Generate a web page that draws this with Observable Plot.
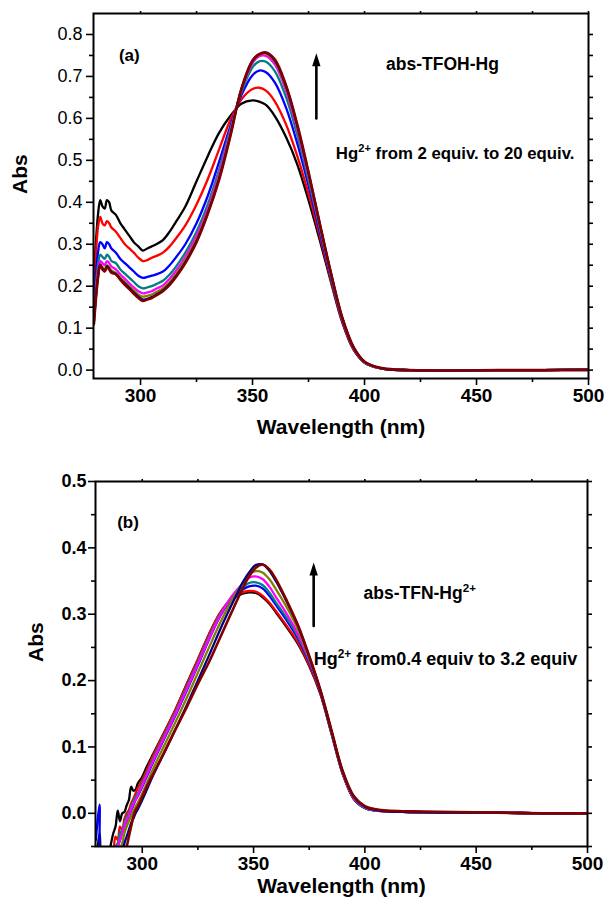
<!DOCTYPE html>
<html>
<head>
<meta charset="utf-8">
<script src="https://cdn.jsdelivr.net/npm/d3@7"></script>
<script src="https://cdn.jsdelivr.net/npm/@observablehq/plot@0.6"></script>
<style>
html, body { margin: 0; padding: 0; background: #fff; }
#chart svg { display: block; }
</style>
</head>
<body>
<div id="chart"></div>
<script>
// ---------- data ----------
const SERIES_COLORS = ["#000000", "#ff0000", "#0000ff", "#008080", "#ff00ff", "#808000", "#000080", "#800000"];

// panel (a) abs-TFOH-Hg
const WAVE_A = [279.2, 281, 282, 283, 284, 285, 286, 287, 289, 291, 293, 295, 297, 299, 301, 303, 305, 307, 310, 313, 316, 320, 325, 330, 335, 340, 345, 350, 353, 356, 360, 365, 370, 375, 380, 385, 390, 395, 400, 405, 410, 420, 440, 460, 480, 500];
const A_BLACK   = [0.22, 0.37, 0.405, 0.39, 0.385, 0.405, 0.40, 0.38, 0.37, 0.35, 0.335, 0.32, 0.305, 0.295, 0.285, 0.29, 0.295, 0.30, 0.31, 0.33, 0.355, 0.39, 0.45, 0.51, 0.565, 0.605, 0.635, 0.643, 0.64, 0.632, 0.605, 0.555, 0.49, 0.405, 0.31, 0.21, 0.115, 0.05, 0.018, 0.007, 0.002, 0.0, -0.001, 0.0, 0.0, 0.001];
const A_RED     = [0.17, 0.34, 0.365, 0.35, 0.345, 0.355, 0.35, 0.34, 0.33, 0.315, 0.30, 0.29, 0.28, 0.268, 0.26, 0.262, 0.268, 0.272, 0.28, 0.295, 0.315, 0.345, 0.395, 0.455, 0.525, 0.595, 0.645, 0.67, 0.673, 0.666, 0.64, 0.585, 0.51, 0.42, 0.32, 0.215, 0.117, 0.05, 0.018, 0.007, 0.002, 0.0, -0.001, 0.0, 0.0, 0.001];
const A_BLUE    = [0.15, 0.28, 0.305, 0.30, 0.29, 0.305, 0.30, 0.29, 0.28, 0.265, 0.255, 0.245, 0.235, 0.225, 0.22, 0.222, 0.225, 0.228, 0.235, 0.25, 0.27, 0.30, 0.35, 0.415, 0.495, 0.58, 0.655, 0.703, 0.714, 0.71, 0.685, 0.625, 0.54, 0.44, 0.33, 0.22, 0.12, 0.052, 0.018, 0.007, 0.002, 0.0, -0.001, 0.0, 0.0, 0.001];
const A_TEAL    = [0.14, 0.25, 0.275, 0.27, 0.265, 0.275, 0.27, 0.26, 0.255, 0.24, 0.23, 0.22, 0.21, 0.20, 0.195, 0.197, 0.20, 0.205, 0.213, 0.228, 0.248, 0.28, 0.33, 0.395, 0.477, 0.572, 0.662, 0.722, 0.736, 0.735, 0.712, 0.65, 0.56, 0.452, 0.338, 0.224, 0.122, 0.053, 0.018, 0.007, 0.002, 0.0, -0.001, 0.0, 0.0, 0.001];
const A_MAGENTA = [0.13, 0.235, 0.26, 0.255, 0.25, 0.26, 0.255, 0.247, 0.24, 0.228, 0.218, 0.207, 0.197, 0.188, 0.183, 0.185, 0.188, 0.194, 0.202, 0.218, 0.238, 0.27, 0.32, 0.385, 0.468, 0.567, 0.666, 0.732, 0.748, 0.749, 0.728, 0.665, 0.572, 0.462, 0.344, 0.228, 0.124, 0.054, 0.019, 0.007, 0.002, 0.0, -0.001, 0.0, 0.0, 0.001];
const A_OLIVE   = [0.12, 0.225, 0.25, 0.245, 0.24, 0.25, 0.245, 0.238, 0.232, 0.22, 0.21, 0.20, 0.19, 0.18, 0.175, 0.177, 0.18, 0.186, 0.195, 0.21, 0.23, 0.262, 0.312, 0.378, 0.46, 0.562, 0.668, 0.736, 0.752, 0.754, 0.735, 0.672, 0.578, 0.467, 0.347, 0.23, 0.125, 0.055, 0.019, 0.007, 0.002, 0.0, -0.001, 0.0, 0.0, 0.001];
const A_NAVY    = [0.115, 0.222, 0.252, 0.242, 0.236, 0.248, 0.242, 0.234, 0.229, 0.217, 0.206, 0.196, 0.185, 0.175, 0.168, 0.17, 0.174, 0.18, 0.19, 0.205, 0.225, 0.257, 0.307, 0.374, 0.455, 0.558, 0.669, 0.737, 0.753, 0.756, 0.738, 0.676, 0.582, 0.47, 0.349, 0.231, 0.126, 0.055, 0.02, 0.008, 0.002, 0.0, -0.001, 0.0, 0.0, 0.001];
const A_WINE    = [0.11, 0.22, 0.25, 0.24, 0.235, 0.245, 0.24, 0.232, 0.228, 0.215, 0.203, 0.193, 0.182, 0.172, 0.165, 0.168, 0.172, 0.178, 0.188, 0.203, 0.223, 0.255, 0.305, 0.372, 0.452, 0.555, 0.67, 0.738, 0.753, 0.757, 0.74, 0.678, 0.585, 0.472, 0.35, 0.232, 0.126, 0.056, 0.02, 0.008, 0.003, 0.0, -0.001, 0.0, 0.0, 0.0];

// panel (b) abs-TFN-Hg2+
const WAVE_B = [279.2, 280.8, 282, 284, 286, 287, 288, 289, 290, 291, 292, 293, 294, 295, 296, 297, 298, 300, 302, 305, 310, 315, 320, 325, 330, 335, 340, 345, 348, 351, 354, 357, 360, 365, 370, 375, 380, 385, 390, 395, 400, 405, 410, 420, 440, 460, 480, 500];
const B_BLACK   = [-0.08, -0.03, -0.1, -0.08, -0.045, -0.03, -0.02, 0.004, -0.012, 0.0, 0.002, 0.012, 0.02, 0.04, 0.034, 0.036, 0.045, 0.055, 0.07, 0.09, 0.123, 0.157, 0.195, 0.232, 0.27, 0.302, 0.322, 0.331, 0.333, 0.332, 0.326, 0.316, 0.303, 0.28, 0.255, 0.222, 0.18, 0.12, 0.06, 0.022, 0.008, 0.004, 0.003, 0.002, 0.001, 0.001, 0.0, 0.0];
const B_RED     = [-0.1, -0.06, -0.1, -0.1, -0.075, -0.06, -0.035, -0.04, -0.02, -0.025, -0.008, 0.0, 0.005, 0.015, 0.022, 0.03, 0.038, 0.05, 0.065, 0.088, 0.122, 0.157, 0.194, 0.232, 0.27, 0.302, 0.323, 0.333, 0.335, 0.334, 0.328, 0.318, 0.305, 0.282, 0.257, 0.224, 0.181, 0.121, 0.06, 0.022, 0.008, 0.004, 0.003, 0.002, 0.001, 0.001, 0.0, 0.0];
const B_BLUE    = [-0.04, 0.013, -0.1, -0.1, -0.1, -0.08, -0.06, -0.05, -0.04, -0.03, -0.022, -0.012, -0.005, 0.004, 0.012, 0.02, 0.026, 0.04, 0.055, 0.078, 0.113, 0.148, 0.185, 0.223, 0.262, 0.297, 0.323, 0.337, 0.342, 0.343, 0.339, 0.328, 0.314, 0.29, 0.263, 0.228, 0.183, 0.122, 0.061, 0.022, 0.008, 0.004, 0.003, 0.002, 0.001, 0.001, 0.0, 0.0];
const B_TEAL    = [-0.1, -0.09, -0.1, -0.1, -0.09, -0.075, -0.05, -0.045, -0.03, -0.025, -0.015, -0.005, 0.0, 0.01, 0.018, 0.025, 0.03, 0.045, 0.06, 0.083, 0.118, 0.153, 0.19, 0.228, 0.266, 0.30, 0.325, 0.34, 0.347, 0.348, 0.344, 0.333, 0.318, 0.294, 0.266, 0.23, 0.184, 0.122, 0.061, 0.023, 0.008, 0.004, 0.003, 0.002, 0.001, 0.001, 0.0, 0.0];
const B_MAGENTA = [-0.1, -0.1, -0.1, -0.1, -0.1, -0.09, -0.065, -0.05, -0.04, -0.03, -0.02, -0.01, -0.004, 0.006, 0.014, 0.02, 0.027, 0.042, 0.057, 0.08, 0.115, 0.15, 0.187, 0.225, 0.263, 0.298, 0.326, 0.346, 0.355, 0.357, 0.353, 0.342, 0.326, 0.30, 0.27, 0.232, 0.185, 0.123, 0.062, 0.023, 0.009, 0.004, 0.003, 0.002, 0.001, 0.001, 0.0, 0.0];
const B_OLIVE   = [-0.1, -0.1, -0.1, -0.1, -0.1, -0.1, -0.09, -0.07, -0.055, -0.045, -0.03, -0.02, -0.012, -0.005, 0.003, 0.01, 0.016, 0.03, 0.045, 0.068, 0.103, 0.138, 0.174, 0.212, 0.25, 0.287, 0.32, 0.347, 0.36, 0.365, 0.363, 0.353, 0.338, 0.31, 0.277, 0.234, 0.185, 0.124, 0.063, 0.024, 0.01, 0.005, 0.003, 0.002, 0.001, 0.001, 0.0, 0.0];
const B_NAVY    = [-0.1, -0.1, -0.1, -0.1, -0.1, -0.1, -0.1, -0.09, -0.07, -0.06, -0.045, -0.035, -0.025, -0.015, -0.008, 0.0, 0.006, 0.02, 0.035, 0.058, 0.092, 0.127, 0.163, 0.20, 0.238, 0.277, 0.313, 0.347, 0.363, 0.374, 0.375, 0.366, 0.35, 0.318, 0.282, 0.236, 0.185, 0.124, 0.063, 0.025, 0.01, 0.005, 0.003, 0.002, 0.001, 0.001, 0.0, 0.0];
const B_WINE    = [-0.1, -0.1, -0.1, -0.1, -0.1, -0.1, -0.1, -0.1, -0.09, -0.075, -0.06, -0.05, -0.035, -0.02, -0.005, 0.005, 0.01, 0.025, 0.04, 0.06, 0.093, 0.127, 0.16, 0.195, 0.228, 0.265, 0.302, 0.338, 0.357, 0.37, 0.375, 0.368, 0.353, 0.32, 0.283, 0.237, 0.186, 0.125, 0.064, 0.026, 0.011, 0.006, 0.004, 0.003, 0.002, 0.001, 0.0, 0.0];

// ticks and texts
const X_TICKS = [300, 350, 400, 450, 500];
const X_MINOR_TICKS = [325, 375, 425, 475];
const YA_TICKS = [0, 0.1, 0.2, 0.3, 0.4, 0.5, 0.6, 0.7, 0.8];
const YA_MINOR_TICKS = [0.05, 0.15, 0.25, 0.35, 0.45, 0.55, 0.65, 0.75];
const YB_TICKS = [0, 0.1, 0.2, 0.3, 0.4, 0.5];
const YB_MINOR_TICKS = [-0.05, 0.05, 0.15, 0.25, 0.35, 0.45];
const X_TITLE = "Wavelength (nm)";
const Y_TITLE = "Abs";
const LABELS_A = ["(a)", "abs-TFOH-Hg", "Hg^2+^ from 2 equiv. to 20 equiv."];
const LABELS_B = ["(b)", "abs-TFN-Hg^2+^", "Hg^2+^ from0.4 equiv to 3.2 equiv"];

// ---------- layout ----------
const FONT = "'Liberation Sans', Arial, Helvetica, sans-serif";

function panel(cfg) {
  const marks = [];
  cfg.series.forEach((vals, i) => {
    const rows = cfg.wave.map((w, j) => ({w, a: vals[j]}));
    marks.push(Plot.line(rows, {
      x: "w", y: "a", stroke: SERIES_COLORS[i], strokeWidth: i === cfg.series.length - 1 ? 2.6 : 2.3,
      curve: "catmull-rom", clip: true, strokeLinejoin: "round"
    }));
  });
  marks.push(Plot.frame({stroke: "black", strokeWidth: 2}));
  // bottom axis
  marks.push(Plot.axisX({anchor: "bottom", ticks: X_TICKS, tickSize: 7, tickPadding: 3, tickFormat: d => String(d),
    fontSize: 19, fontWeight: "bold", fontFamily: FONT, fill: "black", stroke: "black", strokeWidth: 1.6, label: null}));
  marks.push(Plot.axisX({anchor: "bottom", ticks: X_MINOR_TICKS, tickSize: 4, fill: "none", stroke: "black", strokeWidth: 1.6, label: null}));
  // top axis
  marks.push(Plot.axisX({anchor: "top", ticks: X_TICKS.concat(X_MINOR_TICKS), tickSize: 3, fill: "none", stroke: "black", strokeWidth: 1.6, label: null}));
  // left axis
  marks.push(Plot.axisY({anchor: "left", ticks: cfg.yTicks, tickSize: 7, tickPadding: cfg.yPad, tickFormat: d3.format(".1f"),
    fontSize: 18, fontWeight: cfg.yWeight, fontFamily: FONT, fill: "black", stroke: "black", strokeWidth: 1.6, label: null}));
  marks.push(Plot.axisY({anchor: "left", ticks: cfg.yMinor, tickSize: 4, fill: "none", stroke: "black", strokeWidth: 1.6, label: null}));
  // right axis
  marks.push(Plot.axisY({anchor: "right", ticks: cfg.yTicks.concat(cfg.yMinor), tickSize: 4, fill: "none", stroke: "black", strokeWidth: 1.6, label: null}));
  // axis titles
  marks.push(Plot.text([X_TITLE], {text: d => d, frameAnchor: "bottom", dy: cfg.xTitleDy, fontSize: 21, fontWeight: "bold", fontFamily: FONT, fill: "black"}));
  marks.push(Plot.text([Y_TITLE], {text: d => d, frameAnchor: "left", rotate: -90, dx: cfg.yTitleDx, dy: -2, fontSize: 21, fontWeight: "bold", fontFamily: FONT, fill: "black"}));
  // arrow
  marks.push(Plot.arrow([cfg.arrow], {x1: "x", y1: "y0", x2: "x", y2: "y1", stroke: "black", strokeWidth: 2.6, headLength: 0, insetEnd: 9}));
  const HEAD = {draw(ctx) { ctx.moveTo(0, 0); ctx.lineTo(4.2, 13); ctx.lineTo(-4.2, 13); ctx.closePath(); }};
  marks.push(Plot.dot([cfg.arrow], {x: "x", y: "y1", symbol: HEAD, fill: "black", stroke: "none", r: 5}));
  // annotations
  cfg.notes.forEach(n => {
    marks.push(Plot.text([n], {x: "x", y: "y", text: "t", textAnchor: n.anchor, fontSize: n.fs, fontWeight: "bold", fontFamily: FONT, fill: "black"}));
  });

  return Plot.plot({
    width: 605, height: cfg.height,
    marginTop: cfg.mt, marginBottom: cfg.mb, marginLeft: cfg.ml, marginRight: cfg.mr,
    x: {domain: [279, 500], axis: null},
    y: {domain: cfg.yDomain, axis: null},
    style: {background: "white", overflow: "visible", fontFamily: FONT, color: "black"},
    marks
  });
}

const plotA = panel({
  wave: WAVE_A,
  series: [A_BLACK, A_RED, A_BLUE, A_TEAL, A_MAGENTA, A_OLIVE, A_NAVY, A_WINE],
  yDomain: [-0.02, 0.85], yTicks: YA_TICKS, yMinor: YA_MINOR_TICKS, yWeight: "normal", yPad: 4,
  height: 460, mt: 13, mb: 82, ml: 93, mr: 17,
  xTitleDy: 55, yTitleDx: -73,
  arrow: {x: 378.5, y0: 0.60, y1: 0.755},
  notes: [
    {x: 295.0, y: 0.749, t: LABELS_A[0], anchor: "middle", fs: 17},
    {x: 434.8, y: 0.728, t: LABELS_A[1], anchor: "middle", fs: 17.5},
    {x: 387.2, y: 0.516, t: LABELS_A[2], anchor: "start", fs: 16.8}
  ]
});

const plotB = panel({
  wave: WAVE_B,
  series: [B_BLACK, B_RED, B_BLUE, B_TEAL, B_MAGENTA, B_OLIVE, B_NAVY, B_WINE],
  yDomain: [-0.05, 0.5], yTicks: YB_TICKS, yMinor: YB_MINOR_TICKS, yWeight: "bold", yPad: 2,
  height: 447, mt: 21, mb: 61, ml: 95, mr: 18,
  xTitleDy: 46, yTitleDx: -59,
  arrow: {x: 377.0, y0: 0.2823, y1: 0.3778},
  notes: [
    {x: 293.6, y: 0.4375, t: LABELS_B[0], anchor: "middle", fs: 17},
    {x: 399.4, y: 0.3314, t: LABELS_B[1], anchor: "start", fs: 17.5},
    {x: 377.0, y: 0.2315, t: LABELS_B[2], anchor: "start", fs: 18}
  ]
});

const root = document.getElementById("chart");
root.appendChild(plotA);
root.appendChild(plotB);

// superscripts: "Hg^2+^ ..." -> Hg with raised 2+
document.querySelectorAll("#chart text").forEach(t => {
  const s = t.textContent;
  if (!s.includes("^")) return;
  const fs = parseFloat(getComputedStyle(t).fontSize) || 17;
  const raise = fs * 0.42;
  const parts = s.split("^");
  t.textContent = "";
  parts.forEach((p, i) => {
    if (p === "" && i === parts.length - 1) return;
    const ts = document.createElementNS("http://www.w3.org/2000/svg", "tspan");
    ts.textContent = p;
    if (i % 2 === 1) {
      ts.setAttribute("font-size", (fs * 0.66).toFixed(1));
      ts.setAttribute("dy", (-raise).toFixed(1));
    } else if (i > 0) {
      ts.setAttribute("dy", raise.toFixed(1));
    }
    t.appendChild(ts);
  });
});
</script>
</body>
</html>
